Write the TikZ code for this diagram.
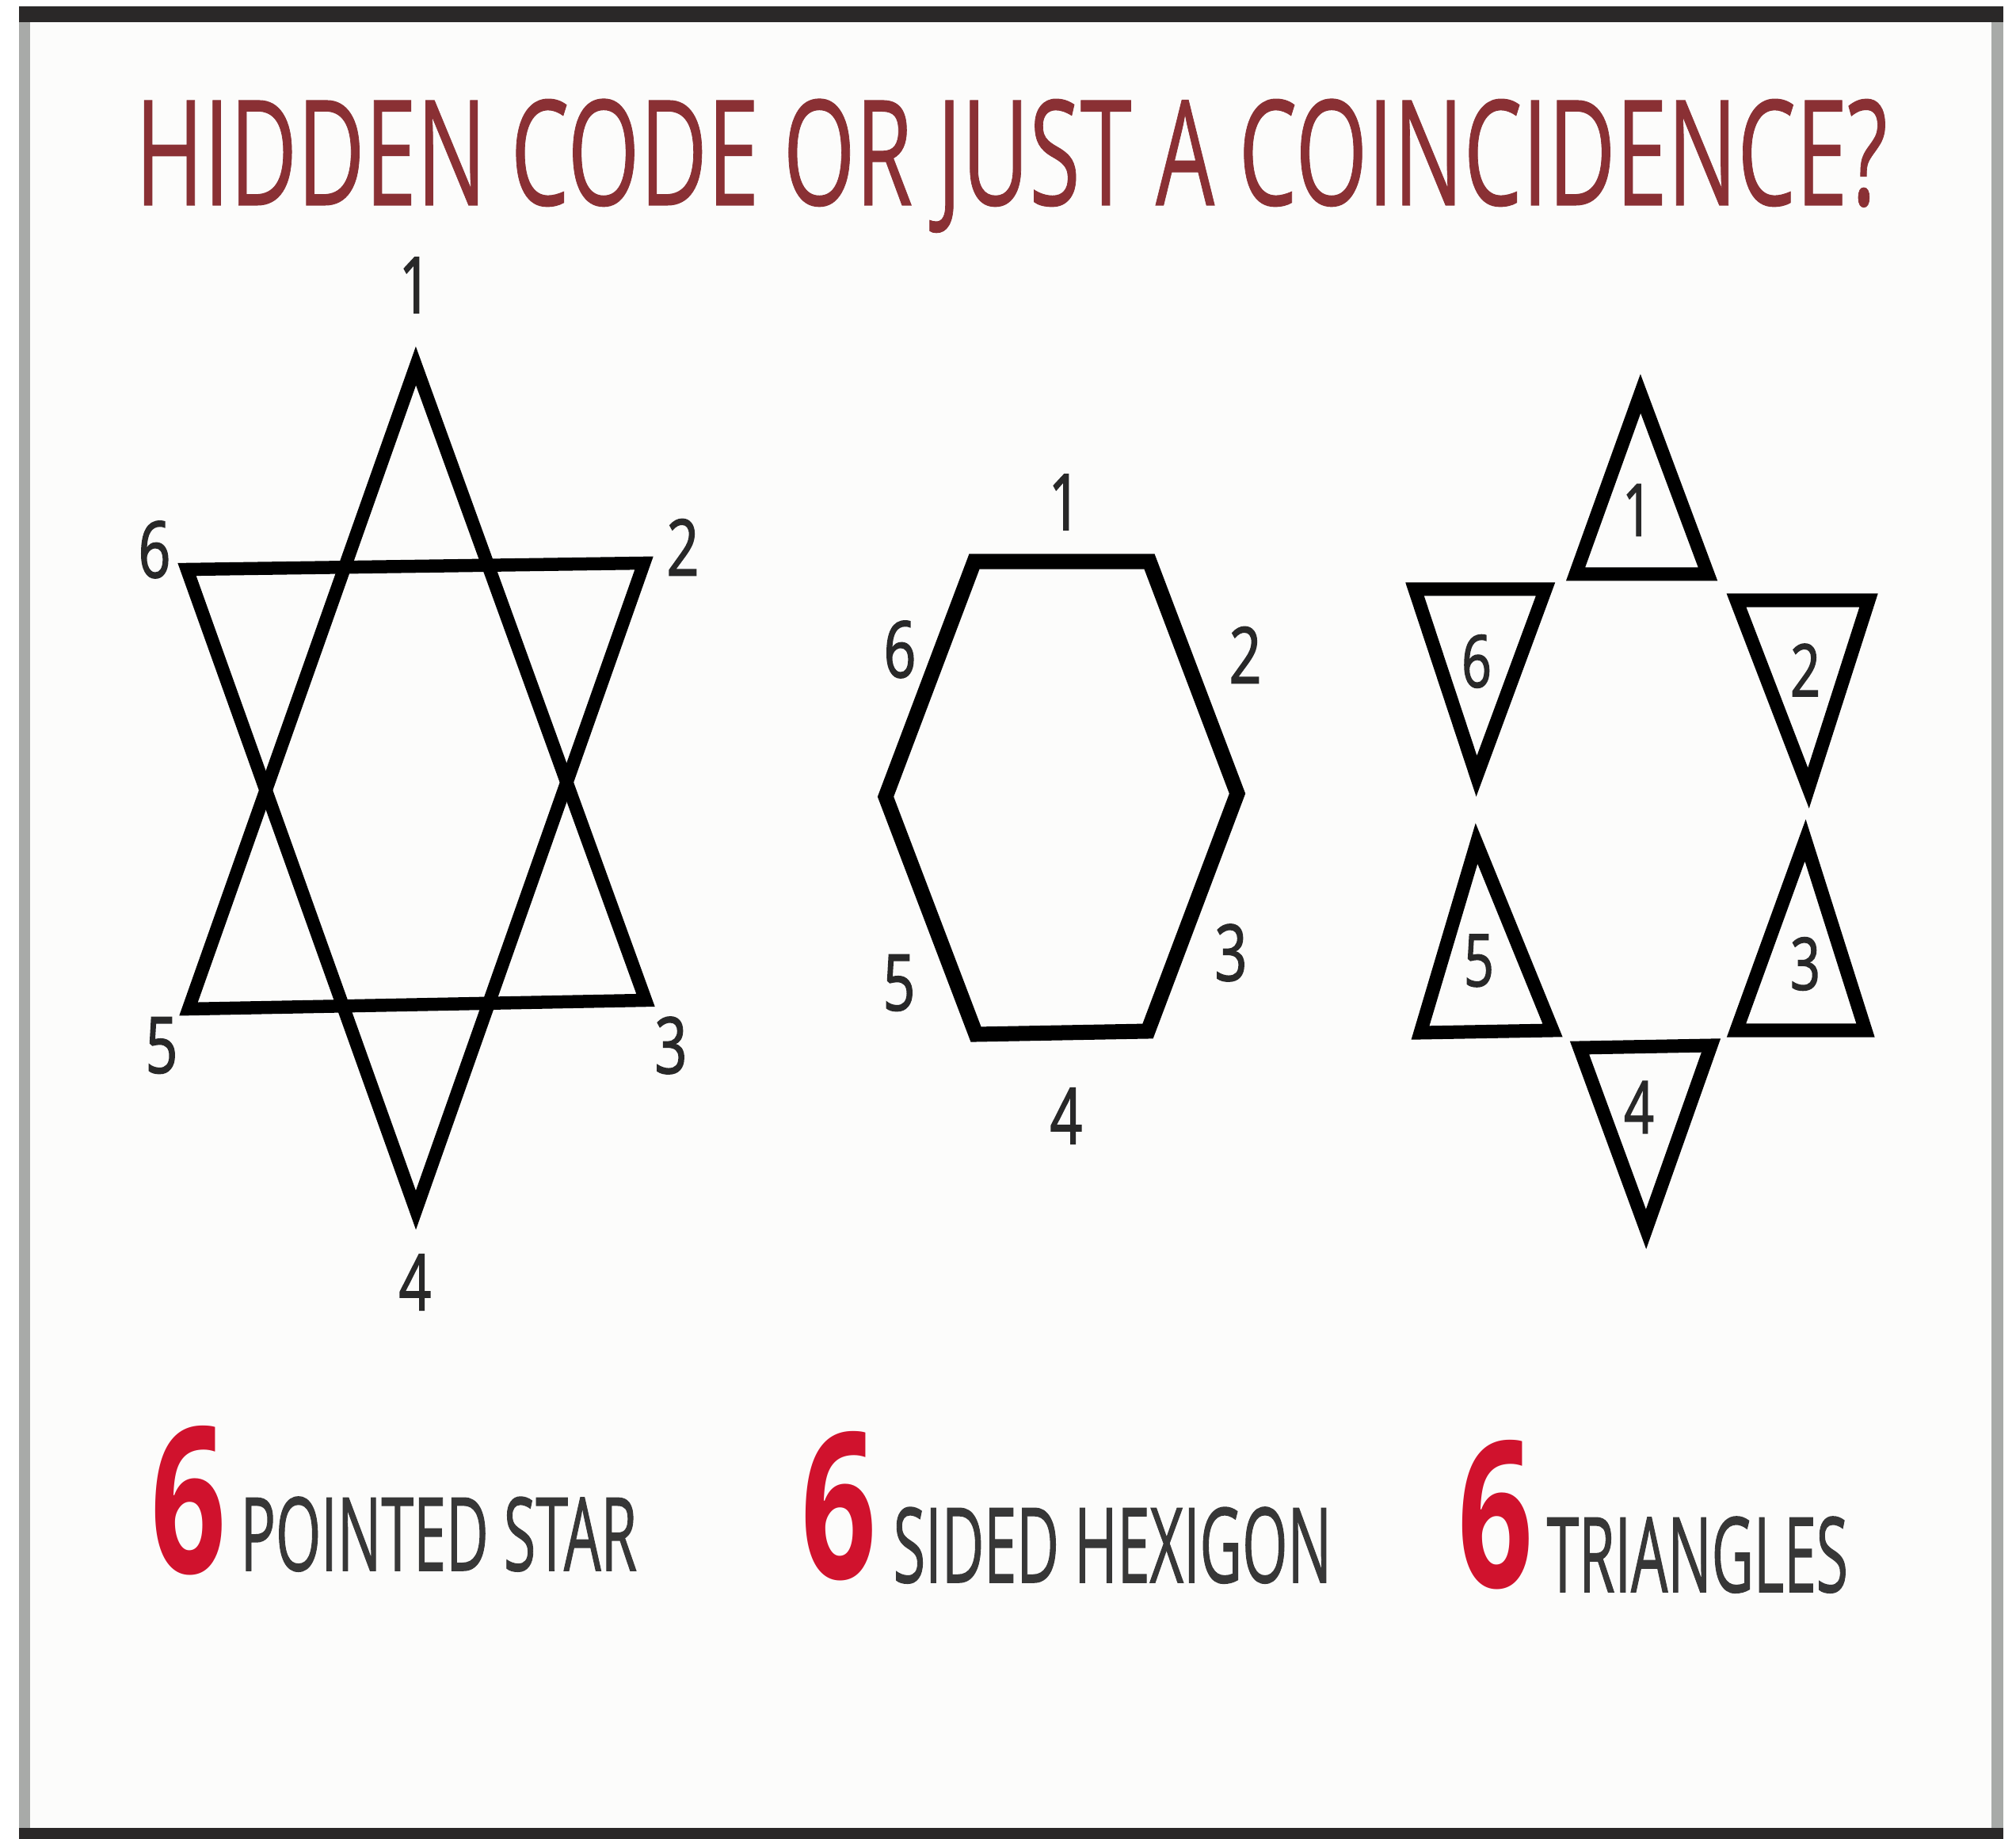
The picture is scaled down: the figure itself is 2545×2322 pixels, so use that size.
\documentclass[tikz,border=0pt]{standalone}
\usepackage{fontspec}
\usepackage{graphicx}
\setmainfont{Open Sans}
\newfontfamily\condfont[FakeStretch=0.72, FakeBold=1.6]{Open Sans}
\newfontfamily\capfont[FakeBold=1.2]{Open Sans}
\newfontfamily\titlefont[FakeBold=0.6]{Open Sans}
\definecolor{titlered}{RGB}{138,48,52}
\definecolor{sixred}{RGB}{208,18,45}
\definecolor{labelgray}{RGB}{55,55,55}
\definecolor{numgray}{RGB}{40,40,40}
\definecolor{framedark}{RGB}{42,40,40}
\definecolor{framegray}{RGB}{168,170,168}
\definecolor{paper}{RGB}{252,252,251}
\begin{document}
\begin{tikzpicture}[x=0.01cm,y=-0.01cm,
  shapeline/.style={draw=black, line width=0.165cm, line join=miter, miter limit=10},
  triline/.style={draw=black, line width=0.17cm, line join=miter, miter limit=10},
  hexline/.style={draw=black, line width=0.19cm, line join=miter, miter limit=10},
  fignum/.style={text=numgray, inner sep=0pt, font=\condfont\fontsize{28}{28}\selectfont},
  trinum/.style={text=numgray, inner sep=0pt, font=\condfont\fontsize{26}{26}\selectfont},
  captiontext/.style={text=labelgray, inner sep=0pt, anchor=base west, font=\capfont},
  bigsix/.style={text=sixred, inner sep=0pt, anchor=south west, font=\bfseries},
]
\useasboundingbox (0,0) rectangle (2545,2322);
\fill[white] (0,0) rectangle (2545,2322);
% frame
\fill[paper] (38,28) rectangle (2514,2308);
\fill[framedark] (24,8) rectangle (2529,28);
\fill[framegray] (24,28) rectangle (38,2308);
\fill[framegray] (2514,28) rectangle (2529,2308);
\fill[framedark] (24,2308) rectangle (2529,2322);

% title
\node[text=titlered, inner sep=0pt, anchor=base west, font=\titlefont] (title) at (170,259)
  {\resizebox{22.1cm}{1.34cm}{HIDDEN CODE OR JUST A COINCIDENCE?}};

% ---- six pointed star ----
\coordinate (s1) at (525,462);
\coordinate (s5) at (238,1274);
\coordinate (s3) at (815,1263);
\coordinate (s6) at (236,719);
\coordinate (s2) at (813,711);
\coordinate (s4) at (525,1528);
\draw[shapeline] (s1) -- (s5) -- (s3) -- cycle;
\draw[shapeline] (s6) -- (s2) -- (s4) -- cycle;
\node[fignum] (sl1) at (524,360) {1};
\node[fignum] (sl2) at (862,691) {2};
\node[fignum] (sl3) at (847,1320) {3};
\node[fignum] (sl4) at (524,1619) {4};
\node[fignum] (sl5) at (204,1320) {5};
\node[fignum] (sl6) at (195,694) {6};

% ---- hexagon ----
\coordinate (h1) at (1230,709);
\coordinate (h2) at (1451,709);
\coordinate (h3) at (1562,1002);
\coordinate (h4) at (1449,1302);
\coordinate (h5) at (1232,1306);
\coordinate (h6) at (1118,1006);
\draw[hexline] (h1) -- (h2) -- (h3) -- (h4) -- (h5) -- (h6) -- cycle;
\node[fignum] (hl1) at (1344,634) {1};
\node[fignum] (hl2) at (1572,827) {2};
\node[fignum] (hl3) at (1554,1203) {3};
\node[fignum] (hl4) at (1346,1409) {4};
\node[fignum] (hl5) at (1135,1241) {5};
\node[fignum] (hl6) at (1136,820) {6};

% ---- six triangles ----
\draw[triline] (2071,497) -- (1989,725) -- (2156,725) -- cycle;
\draw[triline] (1786,744) -- (1951,744) -- (1864,980) -- cycle;
\draw[triline] (2192,758) -- (2359,758) -- (2283,995) -- cycle;
\draw[triline] (1864,1065) -- (1793,1304) -- (1960,1301) -- cycle;
\draw[triline] (2279,1061) -- (2192,1301) -- (2355,1301) -- cycle;
\draw[triline] (1994,1323) -- (2160,1320) -- (2078,1552) -- cycle;
\node[trinum] (tl1) at (2067,644) {1};
\node[trinum] (tl2) at (2279,846) {2};
\node[trinum] (tl3) at (2279,1217) {3};
\node[trinum] (tl4) at (2069,1398) {4};
\node[trinum] (tl5) at (1867,1213) {5};
\node[trinum] (tl6) at (1864,835) {6};

% ---- captions ----
\node[bigsix] (six1) at (190,1990) {\resizebox{0.95cm}{1.86cm}{6}};
\node[captiontext] (cap1) at (303,1983) {\resizebox{5.0cm}{0.93cm}{POINTED STAR}};
\node[bigsix] (six2) at (1011,1997) {\resizebox{0.95cm}{1.86cm}{6}};
\node[captiontext] (cap2) at (1127,1998) {\resizebox{5.53cm}{0.95cm}{SIDED HEXIGON}};
\node[bigsix] (six3) at (1840,2008) {\resizebox{0.95cm}{1.86cm}{6}};
\node[captiontext] (cap3) at (1952,2010) {\resizebox{3.8cm}{0.95cm}{TRIANGLES}};
\end{tikzpicture}
\end{document}
